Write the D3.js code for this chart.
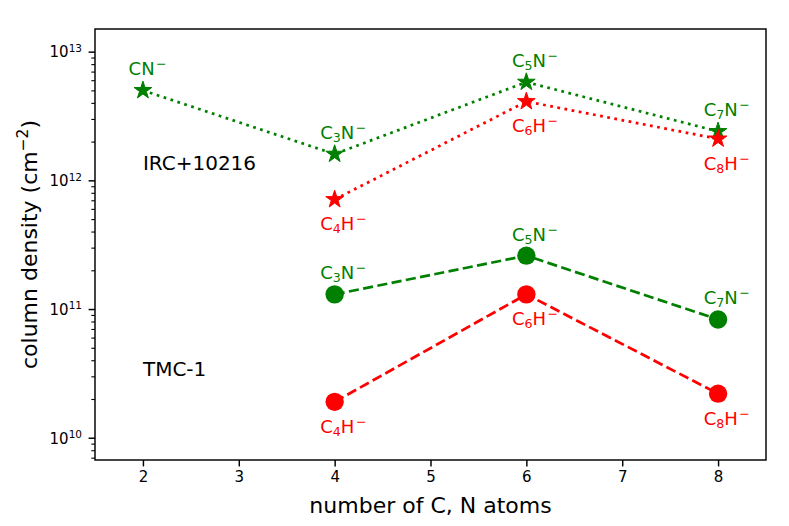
<!DOCTYPE html>
<html><head><meta charset="utf-8">
<script src="https://cdn.jsdelivr.net/npm/d3@7"></script>
<style>body{margin:0;background:#fff} text{font-family:"DejaVu Sans",sans-serif}</style>
</head><body><svg id="c" width="789" height="526"></svg>
<script>
// ---- data ----
const xTicks = [2, 3, 4, 5, 6, 7, 8];
const yMajorTicks = [1e10, 1e11, 1e12, 1e13];
const ircNx = [2, 4, 6, 8];
const ircN = [5.0e12, 1.6e12, 5.8e12, 2.4e12];
const ircNLabels = ["CN", "C3N", "C5N", "C7N"];
const ircHx = [4, 6, 8];
const ircH = [7.1e11, 4.1e12, 2.1e12];
const ircHLabels = ["C4H", "C6H", "C8H"];
const tmcNx = [4, 6, 8];
const tmcN = [1.3e11, 2.6e11, 8.3e10];
const tmcNLabels = ["C3N", "C5N", "C7N"];
const tmcHx = [4, 6, 8];
const tmcH = [1.9e10, 1.3e11, 2.2e10];
const tmcHLabels = ["C4H", "C6H", "C8H"];
const sourceNames = ["IRC+10216", "TMC-1"];
const sourceX = [2, 2];
const sourceY = [1.2e12, 3e10];

// ---- layout ----
const L = 95, R = 766, T = 29, B = 460;
const svg = d3.select("#c");
const x = d3.scaleLinear().domain([1.5, 8.5]).range([L, R]);
const y = d3.scaleLog().domain([Math.pow(10, 9.827), Math.pow(10, 13.176)]).range([B, T]);

const GREEN = "#008000", RED = "#ff0000";
const LW = 2.74;

// axes
const xAxis = svg.append("g").attr("transform", `translate(0,${B})`)
  .call(d3.axisBottom(x).tickValues(xTicks).tickFormat(d3.format("d")).tickSize(6.4).tickPadding(5));
xAxis.select(".domain").remove();
xAxis.selectAll(".tick line").attr("stroke", "#000").attr("stroke-width", 1.46);
xAxis.selectAll(".tick text").attr("font-size", 15).attr("fill", "#000")
  .attr("font-family", "DejaVu Sans");

const minor = [];
for (let k = 9; k <= 13; k++) for (let m = 2; m <= 9; m++) {
  const v = m * Math.pow(10, k);
  if (v >= y.domain()[0] && v <= y.domain()[1]) minor.push(v);
}
const yMinor = svg.append("g").attr("transform", `translate(${L},0)`)
  .call(d3.axisLeft(y).tickValues(minor).tickFormat("").tickSize(3.65));
yMinor.select(".domain").remove();
yMinor.selectAll(".tick line").attr("stroke", "#000").attr("stroke-width", 1.1);

const yAxis = svg.append("g").attr("transform", `translate(${L},0)`)
  .call(d3.axisLeft(y).tickValues(yMajorTicks).tickFormat("").tickSize(6.4));
yAxis.select(".domain").remove();
yAxis.selectAll(".tick line").attr("stroke", "#000").attr("stroke-width", 1.46);
yAxis.selectAll(".tick").each(function(d) {
  const e = Math.round(Math.log10(d));
  const t = d3.select(this).append("text").attr("x", -13).attr("y", 5.3)
    .attr("text-anchor", "end").attr("fill", "#000").attr("font-size", 15);
  t.append("tspan").text("10");
  t.append("tspan").attr("font-size", 10.5).attr("dy", -5.5).text(e);
});

// lines + markers
const series = [
  {xs: ircNx, ys: ircN, labels: ircNLabels, color: GREEN, marker: "star", dash: `${LW},${LW*1.65}`, pos: "above"},
  {xs: ircHx, ys: ircH, labels: ircHLabels, color: RED, marker: "star", dash: `${LW},${LW*1.65}`, pos: "below"},
  {xs: tmcNx, ys: tmcN, labels: tmcNLabels, color: GREEN, marker: "circle", dash: `${LW*3.7},${LW*1.6}`, pos: "above"},
  {xs: tmcHx, ys: tmcH, labels: tmcHLabels, color: RED, marker: "circle", dash: `${LW*3.7},${LW*1.6}`, pos: "below"}
];

function starPath(Ro) {
  const ri = Ro * 0.381966;
  let p = "";
  for (let i = 0; i < 10; i++) {
    const a = -Math.PI / 2 + i * Math.PI / 5;
    const r = i % 2 === 0 ? Ro : ri;
    p += (i === 0 ? "M" : "L") + (r * Math.cos(a)).toFixed(2) + "," + (r * Math.sin(a)).toFixed(2);
  }
  return p + "Z";
}

const line = d3.line().x(d => x(d[0])).y(d => y(d[1]));
series.forEach(s => {
  const pts = s.xs.map((v, i) => [v, s.ys[i]]);
  svg.append("path").attr("d", line(pts)).attr("fill", "none").attr("stroke", s.color)
    .attr("stroke-width", LW).attr("stroke-dasharray", s.dash);
  pts.forEach(p => {
    if (s.marker === "star") {
      svg.append("path").attr("d", starPath(9.3)).attr("transform", `translate(${x(p[0])},${y(p[1])})`)
        .attr("fill", s.color).attr("stroke", s.color).attr("stroke-width", 1);
    } else {
      svg.append("circle").attr("cx", x(p[0])).attr("cy", y(p[1])).attr("r", 9.2).attr("fill", s.color);
    }
  });
});

// labels
function addLabel(px, py, label, color) {
  const t = svg.append("text").attr("x", px).attr("y", py).attr("fill", color).attr("font-size", 18);
  let shift = 0;
  for (const ch of label) {
    const isDigit = /[0-9]/.test(ch);
    const target = isDigit ? 3 : 0;
    const ts = t.append("tspan").text(ch).attr("dy", target - shift);
    if (isDigit) ts.attr("font-size", 12.6);
    shift = target;
  }
  t.append("tspan").text("\u2212").attr("font-size", 12.6).attr("dx", 1.5).attr("dy", -7 - shift);
}
series.forEach(s => {
  s.xs.forEach((v, i) => {
    const px = x(v - 0.15);
    const py = y(s.ys[i]) + (s.pos === "above" ? -15 : 31);
    addLabel(px, py, s.labels[i], s.color);
  });
});

// source names
sourceNames.forEach((n, i) => {
  svg.append("text").attr("x", x(sourceX[i])).attr("y", y(sourceY[i]))
    .attr("font-size", 20).attr("fill", "#000").text(n);
});

// frame
svg.append("rect").attr("x", L).attr("y", T).attr("width", R - L).attr("height", B - T)
  .attr("fill", "none").attr("stroke", "#000").attr("stroke-width", 1.46);

// axis labels
svg.append("text").attr("x", (L + R) / 2).attr("y", 512.5).attr("text-anchor", "middle")
  .attr("font-size", 22).attr("fill", "#000").text("number of C, N atoms");
const yl = svg.append("text").attr("transform", `translate(37,${(T + B) / 2}) rotate(-90)`)
  .attr("text-anchor", "middle").attr("font-size", 22).attr("fill", "#000");
yl.append("tspan").text("column density (cm");
yl.append("tspan").attr("font-size", 15.4).attr("dy", -9).text("\u22122");
yl.append("tspan").attr("dy", 9).text(")");
</script></body></html>
